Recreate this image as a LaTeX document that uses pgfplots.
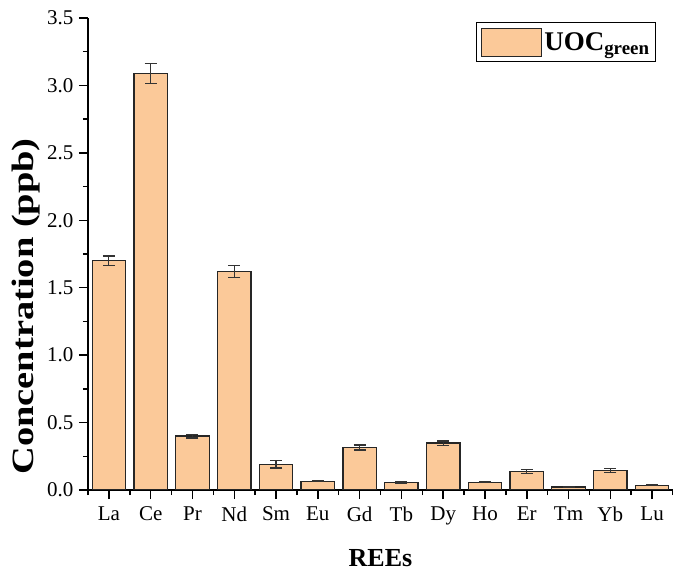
\documentclass[border=0pt]{standalone}
\usepackage{fontspec}
\setmainfont{Liberation Serif}
\usepackage{graphicx}
\usepackage{pgfplots}
\usepackage{pgfplotstable}
\pgfplotsset{compat=1.18}
\definecolor{barfill}{RGB}{251,201,153}
\pgfplotstableread{
x y err
0 1.70 0.035
1 3.09 0.075
2 0.40 0.014
3 1.62 0.045
4 0.19 0.027
5 0.065 0.004
6 0.315 0.018
7 0.055 0.004
8 0.348 0.016
9 0.057 0.003
10 0.135 0.015
11 0.022 0.003
12 0.145 0.014
13 0.035 0.003
}\datatable
\begin{document}
\begin{tikzpicture}
\begin{axis}[
  scale only axis,
  width=585bp, height=472bp,
  xmin=-0.5, xmax=13.5,
  ymin=0, ymax=3.5,
  axis lines*=left,
  axis line style={line width=1.8bp},
  tick pos=left,
  tick align=outside,
  major tick length=9bp,
  minor tick length=5bp,
  every tick/.style={black, line width=1.5bp},
  xtick={0,...,13},
  xticklabels={La,Ce,Pr,Nd,Sm,Eu,Gd,Tb,Dy,Ho,Er,Tm,Yb,Lu},
  minor xtick={-0.5,0.5,...,13.5},
  ytick={0,0.5,...,3.5},
  minor ytick={0.25,0.75,...,3.25},
  yticklabel style={xshift=-2bp, /pgf/number format/fixed, /pgf/number format/fixed zerofill, /pgf/number format/precision=1, /pgf/number format/assume math mode=true},
  ticklabel style={font=\fontsize{21bp}{25bp}\selectfont},
  xticklabel style={yshift=-4bp},
  xlabel={REEs},
  xlabel style={at={(axis description cs:0.5,0)}, anchor=base, yshift=-76bp, font=\bfseries\fontsize{26bp}{30bp}\selectfont},
  ylabel={\scalebox{1.24}[1]{Concentration (ppb)}},
  ylabel style={at={(axis description cs:0,0.389)}, anchor=center, yshift=62bp, font=\bfseries\fontsize{31bp}{36bp}\selectfont},
  legend style={at={(0.971,0.9915)}, anchor=north east, draw=black, line width=1bp, fill=white,
    font=\bfseries\fontsize{27bp}{31bp}\selectfont, inner xsep=4bp, inner ysep=5bp},
  legend cell align=left,
]
\addplot[ybar, bar width=0.8, fill=barfill, draw=black!85, line width=1.3bp,
  legend image code/.code={\draw[fill=barfill, draw=black!85, line width=1.3bp] (0bp,-14bp) rectangle (60bp,14bp);},
  error bars/.cd, y dir=both, y explicit,
  error mark options={rotate=90, mark size=6bp, line width=1.2bp, black!80},
  error bar style={line width=1.2bp, black!80}]
  table[x=x, y=y, y error=err] {\datatable};
\addlegendentry{UOC\textsubscript{green}}
\end{axis}
\pgfresetboundingbox
\path ([shift={(-88bp,-81bp)}]current axis.south west) rectangle ([shift={(0bp,18bp)}]current axis.north east);
\end{tikzpicture}
\end{document}
